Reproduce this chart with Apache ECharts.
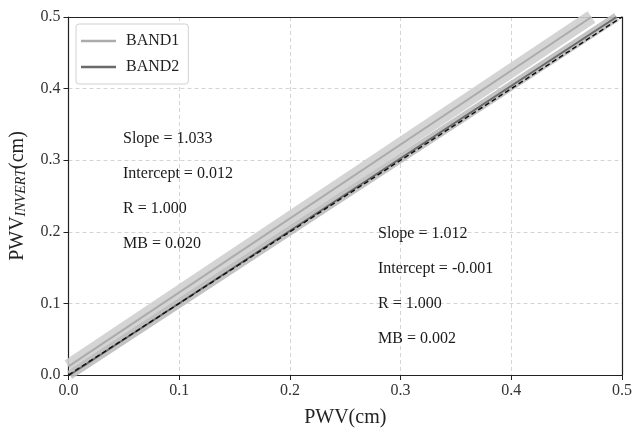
<!DOCTYPE html>
<html>
<head>
<meta charset="utf-8">
<script src="https://cdn.jsdelivr.net/npm/echarts@6/dist/echarts.min.js"></script>
<style>
  html, body { margin: 0; padding: 0; background: #fff; }
  #chart { width: 635px; height: 433px; }
</style>
</head>
<body>
<div id="chart"></div>
<script>
// Retrieval fits of the inverted PWV against reference PWV
const bandNames = ['BAND1', 'BAND2'];
const slopes = [1.033, 1.012];
const intercepts = [0.012, -0.001];
const rValues = ['1.000', '1.000'];
const meanBias = ['0.020', '0.002'];
const xTicks = [0.0, 0.1, 0.2, 0.3, 0.4, 0.5];
const yTicks = [0.0, 0.1, 0.2, 0.3, 0.4, 0.5];
const oneToOne = [[0, 0], [0.5, 0.5]];

const AX_MIN = 0, AX_MAX = 0.5;
const FONT = '"Liberation Serif", "DejaVu Serif", serif';

// End points of a fitted line, cut to the square axis range
function fitLine(slope, icpt) {
  let x0 = AX_MIN, y0 = icpt + slope * x0;
  if (y0 < AX_MIN) { x0 = (AX_MIN - icpt) / slope; y0 = AX_MIN; }
  let x1 = AX_MAX, y1 = icpt + slope * x1;
  if (y1 > AX_MAX) { x1 = (AX_MAX - icpt) / slope; y1 = AX_MAX; }
  return [[x0, y0], [x1, y1]];
}

const bandColor = ['#cfcfcf', '#bcbcbc'];
const bandWidth = [14, 9];
const lineColor = ['#ababab', '#6a6a6a'];

const series = [];
bandNames.forEach((n, i) => {
  series.push({
    name: n + ' points', type: 'line', data: fitLine(slopes[i], intercepts[i]),
    symbol: 'none', silent: true, z: 1, clip: true,
    lineStyle: { color: bandColor[i], width: bandWidth[i], opacity: 0.9 }
  });
});
bandNames.forEach((n, i) => {
  series.push({
    name: n, type: 'line', data: fitLine(slopes[i], intercepts[i]),
    symbol: 'none', z: 3, clip: true,
    lineStyle: { color: lineColor[i], width: 2 },
    itemStyle: { color: lineColor[i] }
  });
});
series.push({
  name: '1:1', type: 'line', data: oneToOne, symbol: 'none', z: 4, clip: true,
  lineStyle: { color: '#111', width: 1.5, type: [5, 3] }
});

function statText(i, left, top) {
  const lines = [
    'Slope = ' + slopes[i].toFixed(3),
    'Intercept = ' + intercepts[i].toFixed(3),
    'R = ' + rValues[i],
    'MB = ' + meanBias[i]
  ];
  return lines.map((t, k) => ({
    type: 'text', left: left, top: top + k * 35, z: 10,
    style: { text: t, font: '16px ' + FONT, fill: '#1a1a1a' }
  }));
}

const labelStyle = { fontFamily: FONT, fontSize: 16, color: '#333', margin: 8,
  formatter: v => v.toFixed(1) };
const splitStyle = { show: true, lineStyle: { color: '#d4d4d4', type: [4, 3] } };
const frameLine = { show: true, onZero: false, lineStyle: { color: '#222', width: 1.2 } };
// Frame-only axes closing the box on the top and right sides
const frameAxis = {
  type: 'value', min: AX_MIN, max: AX_MAX, interval: 0.1,
  axisLine: frameLine, axisTick: { show: false }, axisLabel: { show: false }, splitLine: { show: false }
};

const chart = echarts.init(document.getElementById('chart'), null, { renderer: 'canvas' });
chart.setOption({
  animation: false,
  backgroundColor: '#fff',
  grid: { left: 67, right: 12, top: 17, bottom: 56 },
  legend: {
    data: bandNames, orient: 'vertical', left: 76, top: 24,
    icon: 'rect', itemWidth: 35, itemHeight: 2.5, itemGap: 10,
    backgroundColor: '#fff', borderColor: '#d0d0d0', borderWidth: 1, borderRadius: 3,
    padding: [9, 9, 9, 5],
    textStyle: { fontFamily: FONT, fontSize: 16, color: '#222', padding: [0, 0, 0, 5] }
  },
  xAxis: [{
    type: 'value', min: AX_MIN, max: AX_MAX, interval: 0.1, position: 'bottom',
    name: 'PWV(cm)', nameLocation: 'middle', nameGap: 33,
    nameTextStyle: { fontFamily: FONT, fontSize: 20, color: '#222' },
    axisLine: frameLine,
    axisTick: { show: true, length: 5, lineStyle: { color: '#222' } },
    axisLabel: labelStyle,
    splitLine: splitStyle
  }, Object.assign({ position: 'top' }, frameAxis)],
  yAxis: [{
    type: 'value', min: AX_MIN, max: AX_MAX, interval: 0.1, position: 'left',
    name: '{a|PWV}{b|INVERT}{a|(cm)}', nameLocation: 'middle', nameGap: 40, nameRotate: 90,
    nameTextStyle: {
      fontFamily: FONT, color: '#222',
      rich: {
        a: { fontFamily: FONT, fontSize: 20, color: '#222' },
        b: { fontFamily: FONT, fontSize: 14, fontStyle: 'italic', color: '#222', padding: [7, 0, 0, 0] }
      }
    },
    axisLine: frameLine,
    axisTick: { show: true, length: 5, lineStyle: { color: '#222' } },
    axisLabel: labelStyle,
    splitLine: splitStyle
  }, Object.assign({ position: 'right' }, frameAxis)],
  graphic: statText(0, 123, 131).concat(statText(1, 378, 226)),
  series: series
});
</script>
</body>
</html>
